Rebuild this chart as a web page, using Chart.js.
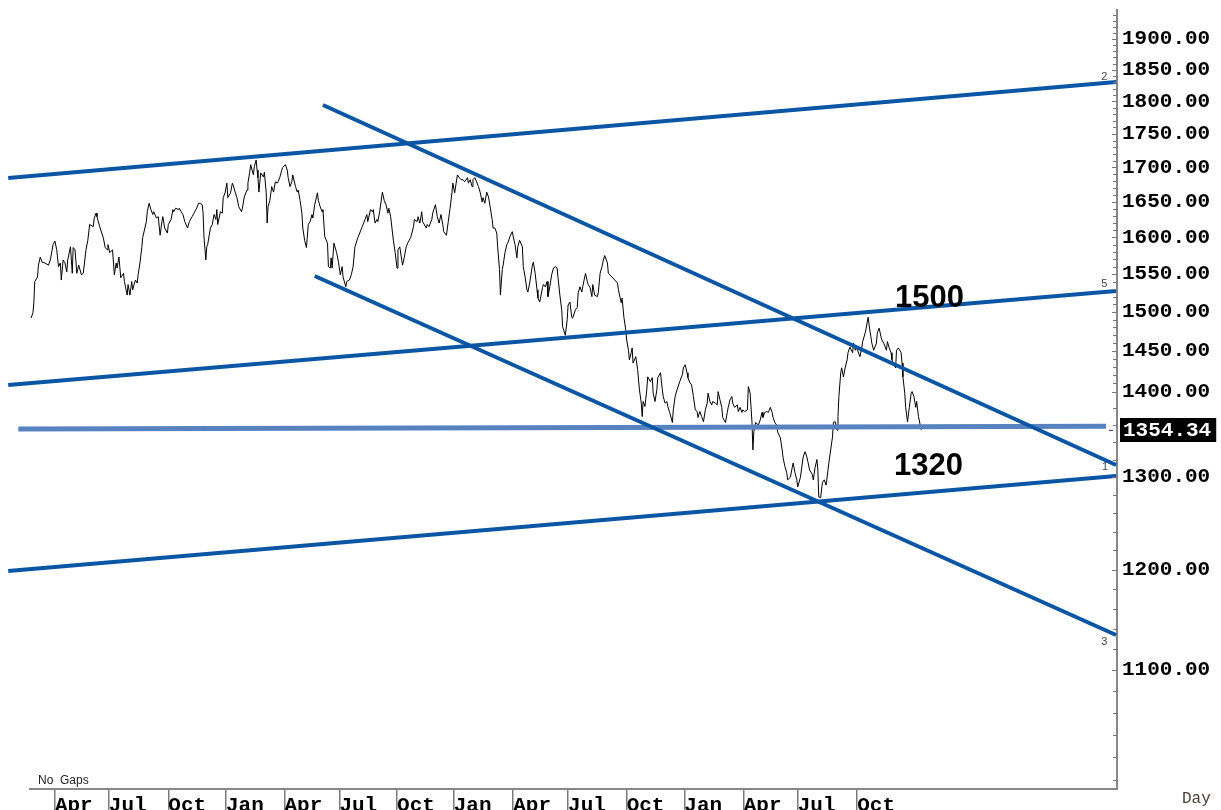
<!DOCTYPE html>
<html>
<head>
<meta charset="utf-8">
<script src="https://cdn.jsdelivr.net/npm/chart.js@4.4.1/dist/chart.umd.min.js"></script>
<style>
html,body{margin:0;padding:0;background:#fff;}
#wrap{width:1221px;height:810px;position:relative;overflow:hidden;}
canvas{display:block;}
</style>
</head>
<body>
<div id="wrap"><canvas id="c" width="1221" height="810"></canvas></div>
<script>
// ---------- DATA ----------
const quarterDays = [26,85,150,213,277,337,400,462,527,587,651,714,779,838,903];
const quarterLabels = ['Apr','Jul','Oct','Jan','Apr','Jul','Oct','Jan','Apr','Jul','Oct','Jan','Apr','Jul','Oct'];

const days = [
0,2,3,4,7,8,10,12,15,19,21,24,26,28,30,32,33,35,37,39,
40,43,45,46,48,50,52,55,57,60,62,64,68,69,71,72,75,79,81,83,
84,86,89,91,93,94,96,98,101,102,105,106,108,110,111,114,116,117,119,121,
122,126,127,129,131,133,134,137,139,141,143,144,146,149,150,153,155,156,158,161,
162,164,166,168,171,173,176,178,181,183,185,187,188,189,191,192,193,196,198,200,
202,203,204,207,209,210,212,214,215,218,220,221,223,225,227,230,231,233,236,237,
239,240,243,244,246,247,248,249,251,254,255,257,258,259,261,263,265,267,269,270,
272,274,275,278,280,281,283,285,286,289,291,292,294,296,297,299,301,303,305,307,
308,310,313,314,316,318,319,321,324,325,327,328,329,331,334,336,338,340,341,344,
345,348,350,352,354,357,362,365,367,368,371,373,374,376,378,379,381,384,386,388,
390,391,393,396,398,400,401,403,
406,408,410,412,415,418,419,422,423,425,427,428,432,433,435,438,439,442,444,446,
448,450,451,454,456,458,460,461,463,466,468,470,472,474,477,478,480,482,483,485,
487,489,491,493,494,496,498,500,502,504,505,507,509,510,512,513,515,516,518,520,
521,524,526,527,529,531,532,534,537,538,540,542,543,545,548,549,551,553,554,556,
559,560,562,564,565,567,569,571,573,575,576,578,580,581,584,586,587,589,591,592,
595,597,598,600,602,603,606,608,609,611,613,614,616,619,620,622,624,625,627,
630,631,635,638,641,642,645,646,648,650,651,653,654,656,657,658,661,663,664,665,
667,668,669,671,673,674,677,679,680,682,684,685,688,690,691,693,695,696,698,701,
702,704,706,709,712,713,715,717,718,720,722,724,726,728,729,731,733,735,737,739,
740,742,744,745,748,750,751,753,755,756,759,761,762,764,766,767,769,772,773,775,
777,778,780,783,784,786,788,789,790,792,795,797,799,800,802,804,806,808,810,811,
813,815,816,819,821,822,824,826,827,830,832,833,835,837,838,841,843,844,846,848,
849,851,854,855,857,859,860,861,863,865,867,869,870,872,874,876,877,879,881,882,
883,885,886,888,890,892,893,895,898,899,901,903,904,906,908,909,912,914,915,916,
918,919,921,924,925,927,929,930,932,935,936,938,940,941,943,945,946,948,951,952,
953,955,956,958,960,962,963,965,967,968,970,973
];

const closes = [
1492,1499,1512,1540,1546,1562,1573,1566,1565,1562,1569,1590,1595,1583,1560,1565,1542,1569,1565,1553,
1569,1587,1551,1586,1583,1551,1562,1549,1551,1583,1596,1618,1615,1627,1634,1629,1615,1599,1586,1583,
1590,1579,1583,1549,1565,1558,1573,1545,1551,1540,1522,1536,1522,1540,1529,1542,1538,1549,1565,1586,
1600,1622,1636,1648,1639,1632,1636,1627,1629,1603,1622,1629,1613,1606,1618,1625,1639,1636,1641,1639,
1641,1636,1632,1622,1613,1622,1629,1634,1641,1648,1648,1646,1634,1600,1569,1587,1590,1613,1618,1632,
1625,1639,1618,1636,1634,1656,1663,1677,1656,1663,1677,1674,1664,1656,1643,1636,1641,1657,1667,1677,
1693,1704,1689,1701,1711,1696,1685,1664,1692,1686,1693,1663,1620,1643,1652,1672,1664,1679,1677,1679,
1686,1696,1700,1704,1696,1685,1672,1679,1689,1672,1664,1667,1652,1634,1613,1596,1586,1618,1622,1632,
1627,1646,1663,1652,1643,1636,1639,1601,1592,1560,1558,1572,1558,1592,1579,1566,1549,1560,1546,1533,
1540,1542,1549,1560,1587,1599,1615,1625,1632,1622,1639,1636,1639,1620,1625,1622,1636,1664,1652,1646,
1634,1641,1629,1596,1579,1558,1583,1587,
1562,1573,1587,1593,1600,1615,1625,1622,1629,1620,1636,1622,1613,1618,1615,1625,1634,1646,1629,1620,
1632,1618,1608,1603,1622,1641,1663,1677,1663,1689,1685,1682,1682,1679,1685,1677,1682,1672,1682,1685,
1679,1672,1663,1650,1656,1648,1664,1657,1641,1625,1613,1613,1606,1587,1556,1522,1556,1562,1579,1590,
1592,1603,1608,1601,1590,1572,1587,1596,1587,1560,1546,1529,1526,1538,1562,1566,1551,1529,1518,1513,
1532,1536,1533,1540,1520,1533,1549,1558,1560,1558,1545,1522,1503,1481,1470,1490,1509,1513,1493,1492,
1503,1506,1525,1533,1526,1533,1551,1540,1536,1532,1520,1536,1522,1520,1525,1551,1560,1566,1575,
1565,1551,1546,1542,1538,1529,1512,1518,1493,1477,1464,1451,1439,1448,1454,1435,1443,1427,1414,1402,
1386,1370,1388,1382,1402,1418,1412,1417,1398,1388,1402,1417,1423,1402,1394,1386,1388,1382,1375,1363,
1378,1394,1402,1412,1421,1429,1433,1423,1417,1411,1408,1394,1378,1376,1369,1376,1370,1364,1378,1386,
1398,1388,1384,1388,1386,1384,1400,1390,1381,1369,1363,1375,1381,1390,1394,1386,1381,1384,1376,1381,
1375,1378,1376,1378,1406,1398,1363,1331,1352,1363,1360,1366,1375,1369,1375,1376,1375,1381,1375,1369,
1363,1360,1352,1345,1331,1322,1312,1305,1297,1300,1311,1316,1305,1297,1289,1300,1316,1323,1329,1323,
1318,1308,1303,1297,1311,1320,1308,1278,1277,1294,1297,1291,1299,1316,1331,1346,1363,1364,1354,1370,
1394,1423,1429,1418,1430,1439,1448,1455,1448,1460,1451,1455,1449,1443,1454,1462,1474,1487,1493,1483,
1468,1460,1451,1460,1473,1479,1468,1464,1460,1451,1462,1454,1448,1439,1433,1429,1451,1454,1448,1435,
1418,1398,1381,1364,1381,1398,1400,1394,1381,1388,1370,1354.34
];

const majorTicks = [1100,1200,1300,1400,1450,1500,1550,1600,1650,1700,1750,1800,1850,1900];
const lastClose = 1354.34;

// trend lines: start/end day and value
const topChannelDays = [-25, 1186];   const topChannelValues = [1684.5, 1830.5];
const line5Days = [-25, 1186];        const line5Values = [1408, 1527.5];
const line1Days = [-25, 1186];        const line1Values = [1198.5, 1301.3];
const fallUpperDays = [319, 1186];    const fallUpperValues = [1794.4, 1313.8];
const fallLowerDays = [310, 1186];    const fallLowerValues = [1547.4, 1133.9];
const supportDays = [-14, 1175];      const supportValues = [1355.5, 1358.5];

const noteTexts = ['1500','1320'];
const noteDays = [982, 981];
const noteValues = [1518, 1312];

const lineTags = ['2','5','1','3'];
const lineTagDays = [1173, 1173, 1174, 1173];
const lineTagValues = [1838, 1537, 1312, 1127];

// ---------- CHART ----------
const DARK_BLUE = '#0b56a4';
const LIGHT_BLUE = '#5683bf';
const MONO = '"Liberation Mono", "DejaVu Sans Mono", monospace';

function pairs(xs, ys){ return xs.map((x,i)=>({x:x, y:ys[i]})); }
function trend(xs, ys, color, width){
  return {data: pairs(xs, ys), borderColor: color, borderWidth: width, pointRadius: 0,
          fill: false, tension: 0, order: 1, borderCapStyle: 'butt'};
}

const yTickValues = [];
for (let t = 1000; t < 1400; t += 20) yTickValues.push(t);
for (let t = 1400; t <= 1940; t += 10) yTickValues.push(t);

const overlay = {
  id: 'overlay',
  afterDraw(chart){
    const {ctx, chartArea, scales:{x, y}} = chart;
    ctx.save();
    // inside tick marks on the price axis
    ctx.strokeStyle = '#777';
    ctx.lineWidth = 1;
    y.ticks.forEach(t => {
      const py = Math.round(y.getPixelForValue(t.value)) + 0.5;
      const len = majorTicks.includes(t.value) ? 5 : 4;
      ctx.beginPath(); ctx.moveTo(chartArea.right - len, py); ctx.lineTo(chartArea.right, py); ctx.stroke();
    });
    // bottom axis line
    ctx.strokeStyle = '#888';
    ctx.lineWidth = 2;
    ctx.beginPath();
    ctx.moveTo(chartArea.left + 29, chartArea.bottom);
    ctx.lineTo(chartArea.right, chartArea.bottom);
    ctx.stroke();

    // annotations 1500 / 1320
    ctx.fillStyle = '#000';
    ctx.font = 'bold 31px "Liberation Sans", Arial, sans-serif';
    ctx.textAlign = 'center';
    ctx.textBaseline = 'middle';
    noteTexts.forEach((t,i) => ctx.fillText(t, x.getPixelForValue(noteDays[i]), y.getPixelForValue(noteValues[i])));

    // small line tags
    ctx.fillStyle = '#444';
    ctx.font = '11px "Liberation Sans", Arial, sans-serif';
    lineTags.forEach((t,i) => ctx.fillText(t, x.getPixelForValue(lineTagDays[i]), y.getPixelForValue(lineTagValues[i])));

    // last price marker & box
    const py = y.getPixelForValue(lastClose);
    ctx.strokeStyle = '#333'; ctx.lineWidth = 1;
    ctx.beginPath(); ctx.moveTo(chartArea.right - 8, py + 0.5); ctx.lineTo(chartArea.right - 4, py + 0.5); ctx.stroke();
    ctx.font = 'bold 21px ' + MONO;
    ctx.textAlign = 'left';
    const txt = lastClose.toFixed(2);
    const w = ctx.measureText(txt).width;
    ctx.fillStyle = '#000';
    ctx.fillRect(chartArea.right + 3, Math.round(py) - 12, w + 8, 24);
    ctx.fillStyle = '#fff';
    ctx.fillText(txt, chartArea.right + 6, py + 1);

    // footer texts
    ctx.fillStyle = '#222';
    ctx.font = '12px "Liberation Sans", Arial, sans-serif';
    ctx.fillText('No  Gaps', chartArea.left + 38, chartArea.bottom - 8);
    ctx.fillStyle = '#4a4038';
    ctx.font = '16px ' + MONO;
    ctx.fillText('Day', chartArea.right + 65, chartArea.bottom + 10);
    ctx.restore();
  }
};

new Chart(document.getElementById('c'), {
  type: 'line',
  data: {
    datasets: [
      {data: pairs(days, closes), borderColor: '#000', borderWidth: 1, pointRadius: 0,
       fill: false, tension: 0, order: 5},
      trend(topChannelDays, topChannelValues, DARK_BLUE, 4),
      trend(line5Days, line5Values, DARK_BLUE, 4),
      trend(line1Days, line1Values, DARK_BLUE, 4),
      trend(fallUpperDays, fallUpperValues, DARK_BLUE, 4),
      trend(fallLowerDays, fallLowerValues, DARK_BLUE, 4),
      trend(supportDays, supportValues, LIGHT_BLUE, 5)
    ]
  },
  options: {
    responsive: false,
    animation: false,
    events: [],
    layout: {padding: {top: 10, left: 0, right: 0, bottom: 0}},
    plugins: {legend: {display: false}, tooltip: {enabled: false}},
    scales: {
      x: {
        type: 'linear',
        position: 'bottom',
        min: -34,
        max: 1187,
        afterBuildTicks: s => { s.ticks = quarterDays.map(v => ({value: v})); },
        afterFit: s => { s.height = 21; s.paddingLeft = 0; s.paddingRight = 0; },
        ticks: {
          autoSkip: false, maxRotation: 0, minRotation: 0, align: 'start',
          padding: -17, color: '#000',
          font: {family: MONO, size: 21, weight: 'bold'},
          callback: (v, i) => quarterLabels[i]
        },
        grid: {display: true, drawOnChartArea: false, drawTicks: true, tickLength: 21,
               color: '#7a7a7a', lineWidth: 1.5},
        border: {display: false}
      },
      y: {
        type: 'logarithmic',
        position: 'right',
        min: 992.3,
        max: 1948.3,
        afterBuildTicks: s => { s.ticks = yTickValues.map(v => ({value: v})); },
        afterFit: s => { s.width = 104; s.paddingTop = 0; s.paddingBottom = 0; },
        ticks: {
          autoSkip: false, padding: 5, color: '#000',
          font: {family: MONO, size: 21, weight: 'bold'},
          callback: v => majorTicks.includes(v) ? v.toFixed(2) : ''
        },
        grid: {display: true, drawOnChartArea: false, drawTicks: false},
        border: {display: true, color: '#888', width: 2}
      }
    }
  },
  plugins: [overlay]
});
</script>
</body>
</html>
